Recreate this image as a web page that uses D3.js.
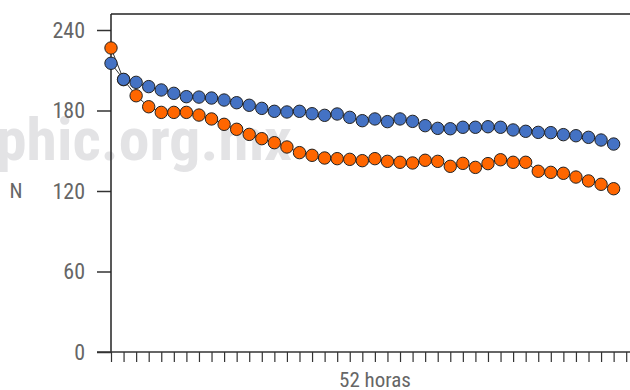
<!DOCTYPE html>
<html>
<head>
<meta charset="utf-8">
<script src="https://cdn.jsdelivr.net/npm/d3@7"></script>
<style>
  html, body { margin: 0; padding: 0; background: #fff; }
  svg { display: block; }
  text { font-family: "Liberation Sans Narrow", "Arial Narrow", "Roboto Condensed", "Liberation Sans", sans-serif; }
</style>
</head>
<body>
<svg id="chart" width="630" height="390"></svg>
<script>
// Hourly readings over the observation window (one point per step)
const steps = d3.range(41);
const serieAzul = [215.2, 203.2, 201, 197.8, 195.3, 192.8, 190.3, 190, 189.3, 187.8,
  185.8, 183.9, 181.6, 179.4, 178.9, 179.4, 177.6, 176.4, 177.4, 174.9,
  172.4, 173.7, 171.7, 173.7, 171.9, 168.7, 166.7, 166.4, 167.5, 167.5,
  167.9, 167.5, 165.5, 164.5, 163.7, 163.5, 162, 161.2, 160, 158, 155];
const serieNaranja = [226.6, 203, 191, 182.8, 178.6, 178.6, 178.6, 176.6, 173.7, 169.7,
  166, 162.2, 159, 156, 152.8, 148.6, 146.6, 144.6, 144.1, 143.6,
  142.6, 144.1, 142.1, 141.4, 140.9, 142.9, 142.1, 138.4, 140.6, 137.6,
  140.4, 143.3, 141.4, 141.4, 134.7, 133.9, 133.2, 130.4, 127.5, 125, 121.7];
const yTicks = [0, 60, 120, 180, 240];
const xTicks = d3.range(42);
const yLabel = "N";
const xLabel = "52 horas";
const marca = "phic.org.mx";

const svg = d3.select("#chart");
const plotLeft = 111, plotTop = 14, plotBottom = 352;

const x = d3.scaleLinear().domain([0, 41]).range([plotLeft, 626.2]);
const y = d3.scaleLinear().domain([0, 240]).range([plotBottom, 30]);

// Watermark behind the data
svg.append("text")
  .attr("x", -4).attr("y", 160)
  .attr("textLength", 296).attr("lengthAdjust", "spacingAndGlyphs")
  .attr("font-size", 60).attr("font-weight", "bold")
  .attr("fill", "#e3e3e5")
  .text(marca);

// Top frame line
svg.append("line")
  .attr("x1", plotLeft).attr("x2", 630).attr("y1", plotTop).attr("y2", plotTop)
  .attr("stroke", "#222").attr("stroke-width", 1.5);

// Y axis
const yAxis = svg.append("g").attr("transform", `translate(${plotLeft},0)`)
  .call(d3.axisLeft(y).tickValues(yTicks).tickSize(14).tickPadding(12));
yAxis.select(".domain").remove();
svg.append("line")
  .attr("x1", plotLeft).attr("x2", plotLeft).attr("y1", plotTop).attr("y2", plotBottom)
  .attr("stroke", "#222").attr("stroke-width", 1.5);
yAxis.selectAll(".tick line").attr("stroke", "#333").attr("stroke-width", 1.5);
yAxis.selectAll(".tick text").attr("font-size", 22).attr("fill", "#666")
  .attr("font-family", "'Liberation Sans Narrow', 'Arial Narrow', sans-serif");

// X axis
const xAxis = svg.append("g").attr("transform", `translate(0,${plotBottom})`)
  .call(d3.axisBottom(x).tickValues(xTicks).tickSize(10).tickFormat(""));
xAxis.select(".domain").remove();
svg.append("line")
  .attr("x1", 97).attr("x2", 630).attr("y1", plotBottom).attr("y2", plotBottom)
  .attr("stroke", "#333").attr("stroke-width", 1.5);
xAxis.selectAll(".tick line").attr("stroke", "#333").attr("stroke-width", 1.2);

// Axis titles
svg.append("text").attr("x", 16).attr("y", 198)
  .attr("text-anchor", "middle").attr("font-size", 21).attr("fill", "#666")
  .text(yLabel);
svg.append("text").attr("x", 375).attr("y", 387)
  .attr("text-anchor", "middle").attr("font-size", 21).attr("fill", "#666")
  .text(xLabel);

// Series: connecting lines and markers
const line = d3.line().x((d, i) => x(steps[i])).y(d => y(d));
const series = [
  { data: serieNaranja, color: "#ff6600" },
  { data: serieAzul, color: "#4472c4" }
];
series.forEach(s => {
  svg.append("path").datum(s.data)
    .attr("d", line).attr("fill", "none")
    .attr("stroke", "#333").attr("stroke-width", 1);
});
series.forEach(s => {
  svg.append("g").selectAll("circle").data(s.data).join("circle")
    .attr("cx", (d, i) => x(steps[i])).attr("cy", d => y(d))
    .attr("r", 6.2).attr("fill", s.color)
    .attr("stroke", "#222").attr("stroke-width", 1);
});
</script>
</body>
</html>
